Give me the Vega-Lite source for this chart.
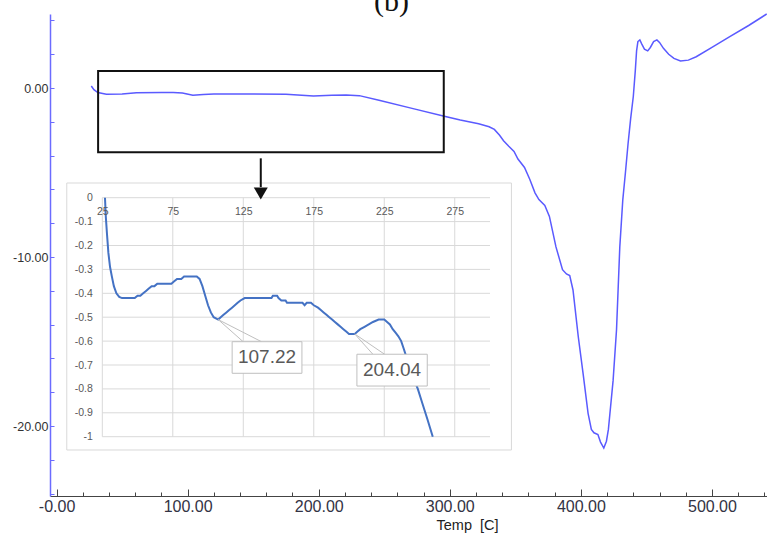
{
  "$schema": "https://vega.github.io/schema/vega-lite/v6.json",
  "width": 717,
  "height": 482,
  "autosize": "none",
  "padding": {"left": 50, "top": 14, "right": 0, "bottom": 42},
  "background": "white",
  "config": {"view": {"stroke": null}},
  "title": {"text": "(b)", "font": "Liberation Serif", "fontSize": 30, "fontWeight": "normal", "color": "#111111", "anchor": "middle", "frame": "group", "baseline": "alphabetic", "offset": -30, "dx": -17},
  "datasets": {
    "main": [
      {"t": 26.5, "v": 0.12}, {"t": 28.5, "v": -0.1}, {"t": 31.5, "v": -0.27}, {"t": 38, "v": -0.37},
      {"t": 50, "v": -0.36}, {"t": 61, "v": -0.28}, {"t": 80, "v": -0.26}, {"t": 89, "v": -0.26},
      {"t": 96, "v": -0.3}, {"t": 104, "v": -0.43}, {"t": 112, "v": -0.39}, {"t": 120, "v": -0.36},
      {"t": 150, "v": -0.36}, {"t": 175, "v": -0.37}, {"t": 196, "v": -0.47}, {"t": 210, "v": -0.43},
      {"t": 221, "v": -0.41}, {"t": 231, "v": -0.45}, {"t": 246, "v": -0.72}, {"t": 272, "v": -1.22},
      {"t": 295, "v": -1.65}, {"t": 308, "v": -1.89}, {"t": 322, "v": -2.12}, {"t": 330, "v": -2.29},
      {"t": 334, "v": -2.45}, {"t": 338, "v": -2.8}, {"t": 341, "v": -3.12}, {"t": 345, "v": -3.45},
      {"t": 349, "v": -3.75}, {"t": 352, "v": -4.2}, {"t": 357, "v": -4.7}, {"t": 361, "v": -5.4},
      {"t": 365, "v": -6.2}, {"t": 368, "v": -6.6}, {"t": 372.5, "v": -6.95}, {"t": 376, "v": -7.6},
      {"t": 381, "v": -9.4}, {"t": 386, "v": -10.75}, {"t": 389, "v": -11.0}, {"t": 391.5, "v": -11.1},
      {"t": 394, "v": -11.95}, {"t": 398, "v": -14.7}, {"t": 401.7, "v": -16.9}, {"t": 405.5, "v": -19.25},
      {"t": 408, "v": -20.2}, {"t": 410, "v": -20.4}, {"t": 413, "v": -20.5}, {"t": 415, "v": -20.95},
      {"t": 417.5, "v": -21.3}, {"t": 419.5, "v": -20.9}, {"t": 421, "v": -20.2}, {"t": 424.6, "v": -17.3},
      {"t": 427.2, "v": -14.3}, {"t": 429.7, "v": -9.4}, {"t": 432, "v": -6.6}, {"t": 434, "v": -5.0},
      {"t": 436, "v": -3.3}, {"t": 438, "v": -1.8}, {"t": 440, "v": -0.5}, {"t": 441.5, "v": 1.0},
      {"t": 442.5, "v": 2.2}, {"t": 443.5, "v": 2.75}, {"t": 445, "v": 2.85}, {"t": 446.5, "v": 2.6},
      {"t": 448.5, "v": 2.3}, {"t": 451, "v": 2.2}, {"t": 453, "v": 2.4}, {"t": 455.5, "v": 2.75},
      {"t": 458, "v": 2.85}, {"t": 460, "v": 2.7}, {"t": 463, "v": 2.35}, {"t": 467, "v": 2.0},
      {"t": 471, "v": 1.75}, {"t": 476, "v": 1.6}, {"t": 482, "v": 1.65}, {"t": 488, "v": 1.85},
      {"t": 500, "v": 2.4}, {"t": 513.6, "v": 3.04}, {"t": 528, "v": 3.7}, {"t": 541.8, "v": 4.38}
    ],
    "mainbox": [{"t0": 31.7, "t1": 295.4, "v0": 1.006, "v1": -3.8}],
    "arrow": [{"t": 155.8, "v0": -4.16, "v1": -5.86, "vh": -6.24}],
    "inset": [
      {"t": 26.9, "v": 0}, {"t": 27.5, "v": -0.08}, {"t": 28.3, "v": -0.15}, {"t": 29.3, "v": -0.23},
      {"t": 30.5, "v": -0.29}, {"t": 31.8, "v": -0.33}, {"t": 33.2, "v": -0.37}, {"t": 35, "v": -0.4},
      {"t": 37, "v": -0.415}, {"t": 39, "v": -0.42}, {"t": 48, "v": -0.42}, {"t": 50, "v": -0.41},
      {"t": 52, "v": -0.41}, {"t": 54, "v": -0.4}, {"t": 56, "v": -0.39}, {"t": 58, "v": -0.38},
      {"t": 60, "v": -0.37}, {"t": 62, "v": -0.37}, {"t": 64, "v": -0.36}, {"t": 74, "v": -0.36},
      {"t": 76, "v": -0.35}, {"t": 78, "v": -0.34}, {"t": 81, "v": -0.34}, {"t": 83, "v": -0.33},
      {"t": 92, "v": -0.33}, {"t": 94, "v": -0.34}, {"t": 96, "v": -0.37}, {"t": 98, "v": -0.41},
      {"t": 100, "v": -0.45}, {"t": 102, "v": -0.48}, {"t": 104, "v": -0.5}, {"t": 107.22, "v": -0.51},
      {"t": 109, "v": -0.5}, {"t": 111, "v": -0.49}, {"t": 113, "v": -0.48}, {"t": 115, "v": -0.47},
      {"t": 117, "v": -0.46}, {"t": 119, "v": -0.45}, {"t": 121, "v": -0.44}, {"t": 123, "v": -0.43},
      {"t": 126, "v": -0.42}, {"t": 145, "v": -0.42}, {"t": 146, "v": -0.41}, {"t": 149, "v": -0.41},
      {"t": 150, "v": -0.42}, {"t": 152, "v": -0.43}, {"t": 155, "v": -0.43}, {"t": 156, "v": -0.44},
      {"t": 167, "v": -0.44}, {"t": 168.5, "v": -0.45}, {"t": 170, "v": -0.44}, {"t": 173, "v": -0.44},
      {"t": 175, "v": -0.45}, {"t": 178, "v": -0.46}, {"t": 180, "v": -0.47}, {"t": 182, "v": -0.48},
      {"t": 184, "v": -0.49}, {"t": 186, "v": -0.5}, {"t": 188, "v": -0.51}, {"t": 190, "v": -0.52},
      {"t": 192, "v": -0.53}, {"t": 194, "v": -0.54}, {"t": 196, "v": -0.55}, {"t": 198, "v": -0.56},
      {"t": 200, "v": -0.57}, {"t": 204.04, "v": -0.57}, {"t": 206, "v": -0.56}, {"t": 208, "v": -0.55},
      {"t": 211, "v": -0.54}, {"t": 214, "v": -0.53}, {"t": 217, "v": -0.52}, {"t": 221, "v": -0.51},
      {"t": 225, "v": -0.51}, {"t": 227, "v": -0.52}, {"t": 229, "v": -0.53}, {"t": 231, "v": -0.55},
      {"t": 233, "v": -0.565}, {"t": 235, "v": -0.58}, {"t": 237, "v": -0.6}, {"t": 239, "v": -0.635},
      {"t": 241.7, "v": -0.686}, {"t": 245, "v": -0.745}, {"t": 248.8, "v": -0.8}, {"t": 252, "v": -0.86},
      {"t": 255.5, "v": -0.925}, {"t": 259.4, "v": -1.0}
    ],
    "frame": [{"t0": -0.2, "t1": 315.2, "v0": 0.0615, "v1": -1.0556}],
    "hgrid": [{"g": 0}, {"g": -0.1}, {"g": -0.2}, {"g": -0.3}, {"g": -0.4}, {"g": -0.5}, {"g": -0.6}, {"g": -0.7}, {"g": -0.8}, {"g": -0.9}, {"g": -1}],
    "vgrid": [{"g": 25}, {"g": 75}, {"g": 125}, {"g": 175}, {"g": 225}, {"g": 275}],
    "wedges": [
      {"id": "a", "k": 1, "t": 124.9, "v": -0.6025}, {"id": "a", "k": 2, "t": 107.22, "v": -0.51}, {"id": "a", "k": 3, "t": 137.9, "v": -0.6025},
      {"id": "b", "k": 1, "t": 216.9, "v": -0.655}, {"id": "b", "k": 2, "t": 204.04, "v": -0.57}, {"id": "b", "k": 3, "t": 225.2, "v": -0.655}
    ],
    "labels": [
      {"label": "107.22", "t0": 117.1, "t1": 166.6, "v0": -0.6025, "v1": -0.7347, "tc": 141.85, "vc": -0.6686},
      {"label": "204.04", "t0": 205.6, "t1": 255.5, "v0": -0.655, "v1": -0.788, "tc": 230.55, "vc": -0.7215}
    ]
  },
  "layer": [
    {
      "layer": [
        {
          "data": {"name": "frame"},
          "mark": {"type": "rect", "fill": "white", "stroke": "#d9d9d9", "strokeWidth": 1},
          "encoding": {
            "x": {"field": "t0", "type": "quantitative", "scale": {"domain": [25, 300], "range": [52.3, 440], "nice": false, "zero": false},
              "axis": {"orient": "bottom", "offset": -298.3, "title": null, "values": [25, 75, 125, 175, 225, 275], "domain": false, "ticks": false, "grid": false, "zindex": 1,
                "labelFont": "Liberation Sans", "labelFontSize": 10.5, "labelColor": "#595959", "labelPadding": 9, "labelFlush": false, "labelOverlap": false}},
            "x2": {"field": "t1"},
            "y": {"field": "v0", "type": "quantitative", "scale": {"domain": [-1, 0], "range": [422.7, 183.7], "nice": false, "zero": false},
              "axis": {"orient": "left", "offset": -52.3, "title": null, "values": [0, -0.1, -0.2, -0.3, -0.4, -0.5, -0.6, -0.7, -0.8, -0.9, -1], "domain": false, "ticks": false, "grid": false, "zindex": 1,
                "labelExpr": "datum.value == 0 ? '0' : '-' + format(abs(datum.value), '~g')",
                "labelFont": "Liberation Sans", "labelFontSize": 10.5, "labelColor": "#595959", "labelPadding": 10, "labelFlush": false, "labelOverlap": false}},
            "y2": {"field": "v1"}
          }
        },
        {
          "data": {"name": "hgrid"},
          "mark": {"type": "rule", "color": "#d9d9d9", "strokeWidth": 1},
          "encoding": {
            "y": {"field": "g", "type": "quantitative", "scale": {"domain": [-1, 0], "range": [422.7, 183.7], "nice": false, "zero": false}},
            "x": {"datum": 25, "type": "quantitative", "scale": {"domain": [25, 300], "range": [52.3, 440], "nice": false, "zero": false}},
            "x2": {"datum": 300}
          }
        },
        {
          "data": {"name": "vgrid"},
          "mark": {"type": "rule", "color": "#d9d9d9", "strokeWidth": 1},
          "encoding": {
            "x": {"field": "g", "type": "quantitative", "scale": {"domain": [25, 300], "range": [52.3, 440], "nice": false, "zero": false}},
            "y": {"datum": 0, "type": "quantitative", "scale": {"domain": [-1, 0], "range": [422.7, 183.7], "nice": false, "zero": false}},
            "y2": {"datum": -1}
          }
        },
        {
          "data": {"name": "inset"},
          "mark": {"type": "line", "color": "#4472c4", "strokeWidth": 2},
          "encoding": {
            "x": {"field": "t", "type": "quantitative", "scale": {"domain": [25, 300], "range": [52.3, 440], "nice": false, "zero": false}},
            "y": {"field": "v", "type": "quantitative", "scale": {"domain": [-1, 0], "range": [422.7, 183.7], "nice": false, "zero": false}}
          }
        },
        {
          "data": {"name": "wedges"},
          "mark": {"type": "line", "color": "#bfbfbf", "strokeWidth": 1},
          "encoding": {
            "x": {"field": "t", "type": "quantitative", "scale": {"domain": [25, 300], "range": [52.3, 440], "nice": false, "zero": false}},
            "y": {"field": "v", "type": "quantitative", "scale": {"domain": [-1, 0], "range": [422.7, 183.7], "nice": false, "zero": false}},
            "detail": {"field": "id"},
            "order": {"field": "k"}
          }
        },
        {
          "data": {"name": "labels"},
          "mark": {"type": "rect", "fill": "white", "stroke": "#bfbfbf", "strokeWidth": 1},
          "encoding": {
            "x": {"field": "t0", "type": "quantitative", "scale": {"domain": [25, 300], "range": [52.3, 440], "nice": false, "zero": false}},
            "x2": {"field": "t1"},
            "y": {"field": "v0", "type": "quantitative", "scale": {"domain": [-1, 0], "range": [422.7, 183.7], "nice": false, "zero": false}},
            "y2": {"field": "v1"}
          }
        },
        {
          "data": {"name": "labels"},
          "mark": {"type": "text", "font": "Liberation Sans", "fontSize": 19, "color": "#595959", "align": "center", "baseline": "middle"},
          "encoding": {
            "x": {"field": "tc", "type": "quantitative", "scale": {"domain": [25, 300], "range": [52.3, 440], "nice": false, "zero": false}},
            "y": {"field": "vc", "type": "quantitative", "scale": {"domain": [-1, 0], "range": [422.7, 183.7], "nice": false, "zero": false}},
            "text": {"field": "label"}
          }
        }
      ]
    },
    {
      "layer": [
        {
          "data": {"name": "main"},
          "mark": {"type": "line", "color": "#5a5aff", "strokeWidth": 1.5},
          "encoding": {
            "x": {"field": "t", "type": "quantitative", "scale": {"domain": [-5, 542], "nice": false, "zero": false},
              "axis": {"orient": "bottom", "title": "Temp \u00a0[C]", "titleX": 417, "titleY": 29, "titleBaseline": "middle", "titleAlign": "center",
                "titleFont": "Liberation Sans", "titleFontSize": 14.5, "titleFontWeight": "normal", "titleColor": "#222222",
                "values": [0, 100, 200, 300, 400, 500],
                "labelExpr": "datum.value == 0 ? '-0.00' : format(datum.value, '.2f')",
                "labelFont": "Liberation Sans", "labelFontSize": 16, "labelColor": "#333344", "labelPadding": 9, "labelFlush": false, "labelOverlap": false,
                "tickSize": -7, "tickColor": "#444444", "domainColor": "#444444", "domainWidth": 1.2, "grid": false}},
            "y": {"field": "v", "type": "quantitative", "scale": {"domain": [-24.14, 4.38], "nice": false, "zero": false},
              "axis": {"orient": "left", "title": null,
                "values": [-20, -10, 0],
                "labelExpr": "datum.value == 0 ? '0.00' : '-' + format(abs(datum.value), '.2f')",
                "labelFont": "Liberation Sans", "labelFontSize": 12.5, "labelColor": "#333333", "labelPadding": 6, "labelFlush": false, "labelOverlap": false,
                "tickSize": -4, "tickColor": "#6b6bff", "domainColor": "#6b6bff", "domainWidth": 1.5, "grid": false}}
          }
        },
        {
          "data": {"name": "mainbox"},
          "mark": {"type": "rect", "fill": null, "fillOpacity": 0, "stroke": "#111111", "strokeWidth": 2},
          "encoding": {
            "x": {"field": "t0", "type": "quantitative", "scale": {"domain": [-5, 542], "nice": false, "zero": false}},
            "x2": {"field": "t1"},
            "y": {"field": "v0", "type": "quantitative", "scale": {"domain": [-24.14, 4.38], "nice": false, "zero": false}},
            "y2": {"field": "v1"}
          }
        },
        {
          "data": {"name": "arrow"},
          "mark": {"type": "rule", "color": "#111111", "strokeWidth": 2},
          "encoding": {
            "x": {"field": "t", "type": "quantitative", "scale": {"domain": [-5, 542], "nice": false, "zero": false}},
            "y": {"field": "v0", "type": "quantitative", "scale": {"domain": [-24.14, 4.38], "nice": false, "zero": false}},
            "y2": {"field": "v1"}
          }
        },
        {
          "data": {"name": "arrow"},
          "mark": {"type": "point", "shape": "triangle-down", "filled": true, "color": "#111111", "opacity": 1, "size": 196},
          "encoding": {
            "x": {"field": "t", "type": "quantitative", "scale": {"domain": [-5, 542], "nice": false, "zero": false}},
            "y": {"field": "vh", "type": "quantitative", "scale": {"domain": [-24.14, 4.38], "nice": false, "zero": false}}
          }
        }
      ]
    },
    {
      "data": {"name": "main"},
      "mark": {"type": "point", "opacity": 0},
      "encoding": {
        "x": {"field": "t", "type": "quantitative", "scale": {"domain": [-5, 542], "nice": false, "zero": false},
          "axis": {"orient": "bottom", "title": null, "values": [20, 40, 60, 80, 120, 140, 160, 180, 220, 240, 260, 280, 320, 340, 360, 380, 420, 440, 460, 480, 520, 540],
            "labels": false, "domain": false, "grid": false, "tickSize": -4, "tickColor": "#444444"}},
        "y": {"field": "v", "type": "quantitative", "scale": {"domain": [-24.14, 4.38], "nice": false, "zero": false},
          "axis": {"orient": "left", "title": null, "values": [-24, -22, -18, -16, -14, -12, -8, -6, -4, -2, 2, 4],
            "labels": false, "domain": false, "grid": false, "tickSize": -4, "tickColor": "#6b6bff"}}
      }
    }
  ],
  "resolve": {"scale": {"x": "independent", "y": "independent"}, "axis": {"x": "independent", "y": "independent"}}
}
